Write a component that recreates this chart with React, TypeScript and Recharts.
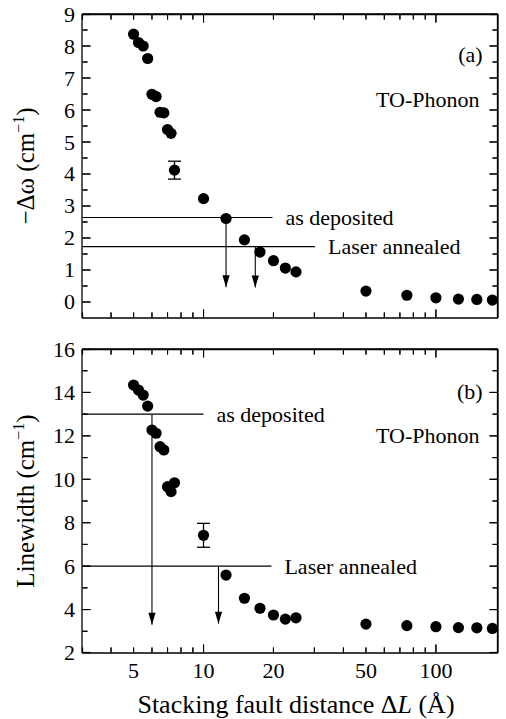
import { ComposedChart, Scatter, XAxis, YAxis, ReferenceLine, ReferenceDot, ErrorBar } from 'recharts'

const FONT = '"Liberation Serif", "DejaVu Serif", serif'
const INK = '#000'
const CHART_W = 506

// x axis: stacking fault distance (Å), log scale
const X_DOMAIN = [3, 185]
const X_TICKS = [3, 4, 5, 6, 7, 8, 9, 10, 20, 30, 40, 50, 60, 70, 80, 90, 100]
const X_LABEL_TICKS = [5, 10, 20, 50, 100]
const X_DECADES = [10, 100]

// (a) frequency shift -Δω (cm^-1)
const SHIFT_X = [5, 5.25, 5.5, 5.75, 6, 6.25, 6.5, 6.75, 7, 7.25, 10, 12.5, 15, 17.5, 20, 22.5, 25, 50, 75, 100, 125, 150, 175]
const SHIFT_Y = [8.37, 8.11, 8.0, 7.61, 6.49, 6.42, 5.93, 5.91, 5.39, 5.27, 3.23, 2.61, 1.94, 1.56, 1.29, 1.06, 0.94, 0.34, 0.21, 0.13, 0.09, 0.08, 0.06]
const SHIFT_ERR_X = [7.5]
const SHIFT_ERR_Y = [4.12]
const SHIFT_ERR = [0.28]
const SHIFT_MINOR = [0.5, 1.5, 2.5, 3.5, 4.5, 5.5, 6.5, 7.5, 8.5]
const SHIFT_LABELS = [0, 1, 2, 3, 4, 5, 6, 7, 8, 9]

// (b) linewidth (cm^-1)
const WIDTH_X = [5, 5.25, 5.5, 5.75, 6, 6.25, 6.5, 6.75, 7, 7.25, 7.5, 12.5, 15, 17.5, 20, 22.5, 25, 50, 75, 100, 125, 150, 175]
const WIDTH_Y = [14.34, 14.11, 13.88, 13.37, 12.27, 12.12, 11.5, 11.35, 9.66, 9.43, 9.84, 5.59, 4.52, 4.06, 3.75, 3.56, 3.62, 3.33, 3.26, 3.21, 3.17, 3.16, 3.13]
const WIDTH_ERR_X = [10]
const WIDTH_ERR_Y = [7.42]
const WIDTH_ERR = [0.55]
const WIDTH_MINOR = [3, 5, 7, 9, 11, 13, 15]
const WIDTH_LABELS = [2, 4, 6, 8, 10, 12, 14, 16]

// sample levels: value, where the line stops, where the arrow drops and ends
const LEVEL_NAMES = ['as deposited', 'Laser annealed']
const SHIFT_LEVEL = [2.64, 1.73]
const SHIFT_LEVEL_END = [19.8, 30.2]
const SHIFT_ARROW_X = [12.5, 16.7]
const SHIFT_ARROW_TIP = [0.46, 0.45]
const WIDTH_LEVEL = [13, 6]
const WIDTH_LEVEL_END = [10, 19.6]
const WIDTH_ARROW_X = [6, 11.6]
const WIDTH_ARROW_TIP = [3.3, 3.35]

// axes need a non-zero size to be drawn; keep it tiny so they sit on the frame
const THIN = 0.01
const MAJOR = 8
const MINOR = 5
// marks on the frame are kept half a pixel inside the plot
const INSET = 0.5

const frameLine = { stroke: INK, strokeWidth: 1.3 }
const labelStyle = { fontFamily: FONT, fontSize: 22 }
const noteText = { fill: INK, fontSize: 22, fontFamily: FONT }

// tick labels only; (x, y) sits on the frame since tickSize and tickMargin are 0
const xTickLabel = (t: any) => (
  <text x={t.x} y={t.y + 25} textAnchor="middle" fill={INK} style={labelStyle}>
    {t.payload.value}
  </text>
)

const yTickLabel = (t: any) => (
  <text x={t.x - 7} y={t.y + 7.5} textAnchor="end" fill={INK} style={labelStyle}>
    {t.payload.value}
  </text>
)

const nothing = () => <g />

// short mark drawn from a point on the frame, pointing into the plot
const mark = (dx: number, dy: number) => (p: any) => (
  <path d={`M${p.cx},${p.cy} l${dx},${dy}`} stroke={INK} strokeWidth={1.1} fill="none" />
)

const dot = (p: any) => <circle cx={p.cx} cy={p.cy} r={5.6} fill={INK} />
const arrowHead = (p: any) => (
  <path d={`M${p.cx - 3.6},${p.cy - 12} L${p.cx + 3.6},${p.cy - 12} L${p.cx},${p.cy} Z`} fill={INK} />
)

const yTitle = (cy: number, main: string) => () => (
  <text
    x={34}
    y={cy}
    transform={`rotate(-90 34 ${cy})`}
    textAnchor="middle"
    style={{ fontFamily: FONT, fontSize: 25 }}
    fill={INK}
  >
    {main} (cm<tspan dy={-10} style={{ fontSize: 16 }}>−1</tspan>
    <tspan dy={10}>)</tspan>
  </text>
)

const xTitle = () => (
  <text x={296} y={383} textAnchor="middle" style={{ fontFamily: FONT, fontSize: 26 }} fill={INK}>
    Stacking fault distance Δ<tspan fontStyle="italic">L</tspan> (Å)
  </text>
)

interface PanelProps {
  height: number
  margin: { top: number; right: number; bottom: number; left: number }
  yDomain: number[]
  yMinor: number[]
  yLabels: number[]
  xs: number[]
  ys: number[]
  errX: number[]
  errY: number[]
  err: number[]
  level: number[]
  levelEnd: number[]
  arrowX: number[]
  arrowTip: number[]
  tag: string
  tagY: number
  phononY: number
  yLabel: (props: any) => any
  xLabels?: boolean
}

function Panel(p: PanelProps) {
  const points = p.xs.map((x, i) => ({ x, y: p.ys[i] }))
  const errPoints = p.errX.map((x, i) => ({ x, y: p.errY[i], err: p.err[i] }))
  const tips = p.arrowX.map((x, i) => ({ x, y: p.arrowTip[i] }))
  const ref = { xAxisId: 'x', yAxisId: 'y', ifOverflow: 'visible' as const }

  // pixel lengths turned into data lengths along each axis
  const plotW = CHART_W - p.margin.left - p.margin.right
  const plotH = p.height - p.margin.top - p.margin.bottom
  const pxPerDecade = plotW / Math.log10(X_DOMAIN[1] / X_DOMAIN[0])
  const pxPerY = plotH / (p.yDomain[1] - p.yDomain[0])
  const xFactor = (px: number) => 10 ** (px / pxPerDecade)
  const yLen = (px: number) => px / pxPerY

  const x0 = X_DOMAIN[0] * xFactor(INSET)
  const x1 = X_DOMAIN[1] / xFactor(INSET)
  const y0 = p.yDomain[0] + yLen(INSET)
  const y1 = p.yDomain[1] - yLen(INSET)
  const inY = (v: number) => Math.min(Math.max(v, y0), y1)
  const inX = (v: number) => Math.min(Math.max(v, x0), x1)

  const xMajor = X_TICKS.filter((v) => X_DECADES.includes(v))
  const xMinor = X_TICKS.filter((v) => !X_DECADES.includes(v))

  // tick marks as short segments: [x, y] start and end in data units
  const xSegs = X_TICKS.flatMap((v) => {
    const len = yLen(X_DECADES.includes(v) ? MAJOR : MINOR)
    const x = inX(v)
    return [
      [{ x, y: y0 }, { x, y: y0 + len }],
      [{ x, y: y1 }, { x, y: y1 - len }],
    ]
  })
  const ySegs = [...p.yLabels.map((v) => [v, MAJOR]), ...p.yMinor.map((v) => [v, MINOR])].flatMap(([v, len]) => {
    const y = inY(v)
    const f = xFactor(len)
    return [
      [{ x: x0, y }, { x: x0 * f, y }],
      [{ x: x1 / f, y }, { x: x1, y }],
    ]
  })

  const onX = (vals: number[], y: number) => vals.map((x) => ({ x: inX(x), y }))
  const onY = (vals: number[], x: number) => vals.map((y) => ({ x, y: inY(y) }))

  return (
    <ComposedChart width={CHART_W} height={p.height} margin={p.margin}>
      <XAxis
        xAxisId="x"
        dataKey="x"
        type="number"
        scale="log"
        domain={X_DOMAIN}
        interval={0}
        height={THIN}
        ticks={X_LABEL_TICKS}
        tickSize={0}
        tickMargin={0}
        tickLine={false}
        axisLine={frameLine}
        tick={p.xLabels ? xTickLabel : nothing}
        label={p.xLabels ? xTitle : undefined}
      />
      <YAxis
        yAxisId="y"
        dataKey="y"
        type="number"
        domain={p.yDomain}
        interval={0}
        width={THIN}
        ticks={p.yLabels}
        tickSize={0}
        tickMargin={0}
        tickLine={false}
        axisLine={frameLine}
        tick={yTickLabel}
        label={p.yLabel}
      />
      {/* mirror axes for the top and right edges of the frame */}
      <XAxis
        xAxisId="xt"
        dataKey="x"
        orientation="top"
        type="number"
        scale="log"
        domain={X_DOMAIN}
        interval={0}
        height={THIN}
        ticks={X_LABEL_TICKS}
        tickSize={0}
        tickLine={false}
        axisLine={frameLine}
        tick={nothing}
      />
      <YAxis
        yAxisId="yr"
        dataKey="y"
        orientation="right"
        type="number"
        domain={p.yDomain}
        interval={0}
        width={THIN}
        ticks={p.yLabels}
        tickSize={0}
        tickLine={false}
        axisLine={frameLine}
        tick={nothing}
      />

      {p.level.map((v, i) => (
        <ReferenceLine
          key={`l${i}`}
          {...ref}
          segment={[{ x: x0, y: v }, { x: p.levelEnd[i], y: v }]}
          stroke={INK}
          strokeWidth={1.1}
        />
      ))}
      {p.level.map((v, i) => (
        <ReferenceLine
          key={`a${i}`}
          {...ref}
          segment={[{ x: p.arrowX[i], y: v }, { x: p.arrowX[i], y: p.arrowTip[i] }]}
          stroke={INK}
          strokeWidth={1.1}
        />
      ))}
      {p.level.map((v, i) => (
        <ReferenceDot
          key={`t${i}`}
          {...ref}
          x={p.levelEnd[i]}
          y={v}
          r={0}
          label={{ value: LEVEL_NAMES[i], position: 'right', offset: 13, ...noteText }}
        />
      ))}
      <ReferenceDot {...ref} x={159} y={p.tagY} r={0} label={{ value: p.tag, position: 'left', offset: 0, ...noteText }} />
      <ReferenceDot
        {...ref}
        x={154}
        y={p.phononY}
        r={0}
        label={{ value: 'TO-Phonon', position: 'left', offset: 0, ...noteText }}
      />

      <Scatter xAxisId="x" yAxisId="y" data={points} shape={dot} isAnimationActive={false} />
      <Scatter xAxisId="x" yAxisId="y" data={errPoints} shape={dot} isAnimationActive={false}>
        <ErrorBar dataKey="err" direction="y" width={6.5} stroke={INK} strokeWidth={1.3} isAnimationActive={false} />
      </Scatter>
      <Scatter xAxisId="x" yAxisId="y" data={tips} shape={arrowHead} isAnimationActive={false} />
      {/* gives the top and right axes data of their own */}
      <Scatter xAxisId="xt" yAxisId="yr" data={points} shape={nothing} isAnimationActive={false} />

      {/* frame edges and tick marks as segments */}
      <ReferenceLine key="ft" {...ref} segment={[{ x: x0, y: y1 }, { x: x1, y: y1 }]} stroke={INK} strokeWidth={1.3} />
      <ReferenceLine key="fr" {...ref} segment={[{ x: x1, y: y0 }, { x: x1, y: y1 }]} stroke={INK} strokeWidth={1.3} />
      {[...xSegs, ...ySegs].map((seg, i) => (
        <ReferenceLine key={`tk${i}`} {...ref} segment={seg} stroke={INK} strokeWidth={1.1} />
      ))}

      {/* the same tick marks as point shapes on the frame */}
      <Scatter xAxisId="x" yAxisId="y" data={onX(xMajor, y0)} shape={mark(0, -MAJOR)} isAnimationActive={false} />
      <Scatter xAxisId="x" yAxisId="y" data={onX(xMinor, y0)} shape={mark(0, -MINOR)} isAnimationActive={false} />
      <Scatter xAxisId="x" yAxisId="y" data={onX(xMajor, y1)} shape={mark(0, MAJOR)} isAnimationActive={false} />
      <Scatter xAxisId="x" yAxisId="y" data={onX(xMinor, y1)} shape={mark(0, MINOR)} isAnimationActive={false} />
      <Scatter xAxisId="x" yAxisId="y" data={onY(p.yLabels, x0)} shape={mark(MAJOR, 0)} isAnimationActive={false} />
      <Scatter xAxisId="x" yAxisId="y" data={onY(p.yMinor, x0)} shape={mark(MINOR, 0)} isAnimationActive={false} />
      <Scatter xAxisId="x" yAxisId="y" data={onY(p.yLabels, x1)} shape={mark(-MAJOR, 0)} isAnimationActive={false} />
      <Scatter xAxisId="x" yAxisId="y" data={onY(p.yMinor, x1)} shape={mark(-MINOR, 0)} isAnimationActive={false} />
    </ComposedChart>
  )
}

export default function App() {
  return (
    <div
      style={{
        position: 'absolute',
        left: 0,
        top: 0,
        width: CHART_W,
        height: 719,
        background: '#fff',
        fontFamily: FONT,
      }}
    >
      <Panel
        height={330}
        margin={{ top: 14, right: 8, bottom: 12, left: 82 }}
        yDomain={[-0.5, 9]}
        yMinor={SHIFT_MINOR}
        yLabels={SHIFT_LABELS}
        xs={SHIFT_X}
        ys={SHIFT_Y}
        errX={SHIFT_ERR_X}
        errY={SHIFT_ERR_Y}
        err={SHIFT_ERR}
        level={SHIFT_LEVEL}
        levelEnd={SHIFT_LEVEL_END}
        arrowX={SHIFT_ARROW_X}
        arrowTip={SHIFT_ARROW_TIP}
        tag="(a)"
        tagY={7.74}
        phononY={6.33}
        yLabel={yTitle(166, '−Δω')}
      />
      <Panel
        height={389}
        margin={{ top: 19, right: 8, bottom: 66, left: 82 }}
        yDomain={[2, 16]}
        yMinor={WIDTH_MINOR}
        yLabels={WIDTH_LABELS}
        xs={WIDTH_X}
        ys={WIDTH_Y}
        errX={WIDTH_ERR_X}
        errY={WIDTH_ERR_Y}
        err={WIDTH_ERR}
        level={WIDTH_LEVEL}
        levelEnd={WIDTH_LEVEL_END}
        arrowX={WIDTH_ARROW_X}
        arrowTip={WIDTH_ARROW_TIP}
        tag="(b)"
        tagY={14.07}
        phononY={12.02}
        yLabel={yTitle(171, 'Linewidth')}
        xLabels
      />
    </div>
  )
}
